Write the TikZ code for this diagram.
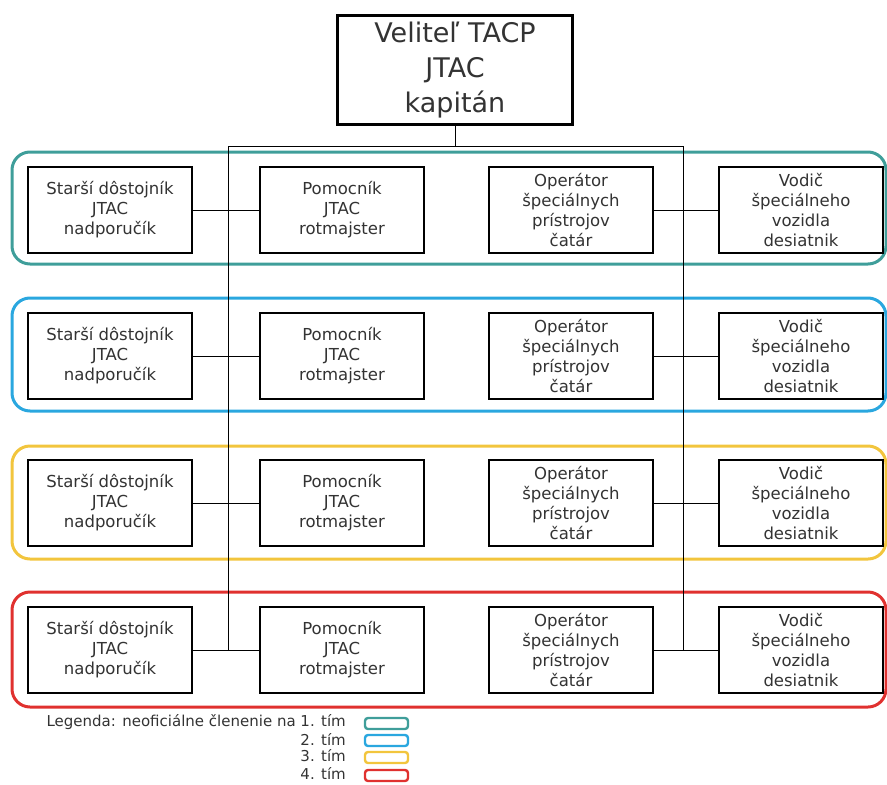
\documentclass[tikz,border=0pt]{standalone}
\usepackage{fontspec}
\setmainfont{DejaVu Sans}
\definecolor{teamA}{HTML}{3F9E9A}
\definecolor{teamB}{HTML}{2AA7DF}
\definecolor{teamC}{HTML}{F2C53D}
\definecolor{teamD}{HTML}{E0312F}
\definecolor{txt}{HTML}{333333}
\begin{document}
\begin{tikzpicture}[
        x=1pt, y=-1pt,
        member/.style={
            rectangle,
            draw,
            line width=2.4pt,
            fill=white,
            minimum width=164pt,
            minimum height=86pt,
            inner sep=0pt,
            align=center,
            text=txt,
            font=\fontsize{16.5}{20}\selectfont
        },
        chief/.style={
            member,
            minimum width=235pt,
            minimum height=109pt,
            font=\fontsize{27}{35}\selectfont
        },
        link/.style={line width=1pt},
        team/.style={line width=3pt, rounded corners=18pt},
        swatch/.style={line width=2.4pt, rounded corners=3pt, fill=white},
        legtext/.style={anchor=east, text=txt, inner sep=0pt,
            font=\fontsize{15}{17}\selectfont}
    ]

    \useasboundingbox (0,0) rectangle (887,785);

    % team frames
    \draw[team, teamA] (12,152) rectangle (886,264);
    \draw[team, teamB] (12,298) rectangle (886,411);
    \draw[team, teamC] (12,446) rectangle (886,559);
    \draw[team, teamD] (12,592) rectangle (886,707);

    \node[chief] (cmd) at (455,70) {Veliteľ TACP\\JTAC\\kapitán};

    \coordinate (jL) at (228,146);
    \coordinate (jR) at (683,146);

    % 1. tim
    \node[member] (s1) at (110,210) {Starší dôstojník\\JTAC\\nadporučík};
    \node[member] (p1) at (342,210) {Pomocník\\JTAC\\rotmajster};
    \node[member] (o1) at (571,210) {Operátor\\špeciálnych\\prístrojov\\čatár};
    \node[member] (v1) at (801,210) {Vodič\\špeciálneho\\vozidla\\desiatnik};

    % 2. tim
    \node[member] (s2) at (110,356) {Starší dôstojník\\JTAC\\nadporučík};
    \node[member] (p2) at (342,356) {Pomocník\\JTAC\\rotmajster};
    \node[member] (o2) at (571,356) {Operátor\\špeciálnych\\prístrojov\\čatár};
    \node[member] (v2) at (801,356) {Vodič\\špeciálneho\\vozidla\\desiatnik};

    % 3. tim
    \node[member] (s3) at (110,503) {Starší dôstojník\\JTAC\\nadporučík};
    \node[member] (p3) at (342,503) {Pomocník\\JTAC\\rotmajster};
    \node[member] (o3) at (571,503) {Operátor\\špeciálnych\\prístrojov\\čatár};
    \node[member] (v3) at (801,503) {Vodič\\špeciálneho\\vozidla\\desiatnik};

    % 4. tim
    \node[member] (s4) at (110,650) {Starší dôstojník\\JTAC\\nadporučík};
    \node[member] (p4) at (342,650) {Pomocník\\JTAC\\rotmajster};
    \node[member] (o4) at (571,650) {Operátor\\špeciálnych\\prístrojov\\čatár};
    \node[member] (v4) at (801,650) {Vodič\\špeciálneho\\vozidla\\desiatnik};

    \draw[link] (cmd.south) -- (cmd.south |- jL);
    \draw[link] (jL) -- (jR);
    \draw[link] (jL) -- (jL |- s4.east);
    \draw[link] (jR) -- (jR |- o4.east);

    \draw[link] (s1.east)--(p1.west);
    \draw[link] (o1.east)--(v1.west);
    \draw[link] (s2.east)--(p2.west);
    \draw[link] (o2.east)--(v2.west);
    \draw[link] (s3.east)--(p3.west);
    \draw[link] (o3.east)--(v3.west);
    \draw[link] (s4.east)--(p4.west);
    \draw[link] (o4.east)--(v4.west);

    % legenda
    \node[legtext] (lg1) at (346,722) {Legenda: neoficiálne členenie na 1. tím};
    \node[legtext] (lg2) at (346,739) {2. tím};
    \node[legtext] (lg3) at (346,756) {3. tím};
    \node[legtext] (lg4) at (346,773) {4. tím};

    \draw[swatch, draw=teamA] (365,718) rectangle (408,729);
    \draw[swatch, draw=teamB] (365,735) rectangle (408,746);
    \draw[swatch, draw=teamC] (365,752) rectangle (408,763);
    \draw[swatch, draw=teamD] (365,770) rectangle (408,781);

    \end{tikzpicture}
\end{document}
